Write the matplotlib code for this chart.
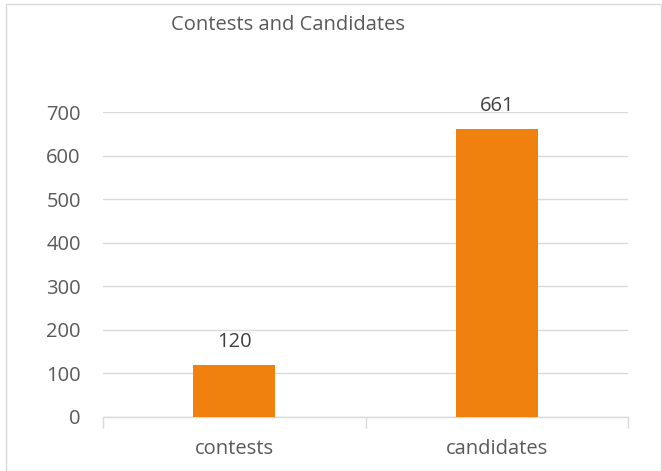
import matplotlib
matplotlib.use("Agg")
import matplotlib.pyplot as plt
from matplotlib.patches import Rectangle

categories = ["contests", "candidates"]
values = [120, 661]
yticks = [0, 100, 200, 300, 400, 500, 600, 700]
title = "Contests and Candidates"

plt.rcParams['font.family'] = ['Open Sans', 'DejaVu Sans']
txt = '#595959'
grid = '#D9D9D9'
bar_c = '#F0810E'
fs = 14.5

fig = plt.figure(figsize=(6.62, 4.71), dpi=100)
ax = fig.add_axes([103/662, 1-417/471, 525/662, 305/471])

x = list(range(len(categories)))
bars = ax.bar(x, values, width=0.313, color=bar_c, zorder=3)
for xi, v in zip(x, values):
    ax.annotate(str(v), (xi, v), xytext=(0, 9.5), textcoords='offset points',
                ha='center', va='bottom', fontsize=fs, color='#404040',
                annotation_clip=False)

ax.set_xlim(-0.5, len(categories) - 0.5)
ax.set_ylim(0, 700)
ax.set_yticks(yticks)
ax.set_yticklabels([str(t) for t in yticks])
ax.yaxis.grid(True, color=grid, linewidth=1.0, zorder=0)
ax.tick_params(axis='y', length=0, pad=16, labelsize=fs, labelcolor=txt)
ax.set_xticks(x)
ax.set_xticklabels(categories)
ax.tick_params(axis='x', length=0, pad=16, labelsize=fs, labelcolor=txt)
ax.set_xticks([-0.5, 0.5, 1.5], minor=True)
ax.tick_params(axis='x', which='minor', length=8, color=grid, width=1.0)
for s in ['top', 'right', 'left']:
    ax.spines[s].set_visible(False)
ax.spines['bottom'].set_color(grid)
ax.spines['bottom'].set_linewidth(1.0)

fig.text(288/662, 1-25/471, title, ha='center', va='center', fontsize=fs, color=txt)

fig.patches.append(Rectangle((6/662, 0), 1 - 7/662, 1 - 4/471, transform=fig.transFigure,
                             fill=False, edgecolor=grid, linewidth=1.0))

fig.savefig("out.png", dpi=100)
